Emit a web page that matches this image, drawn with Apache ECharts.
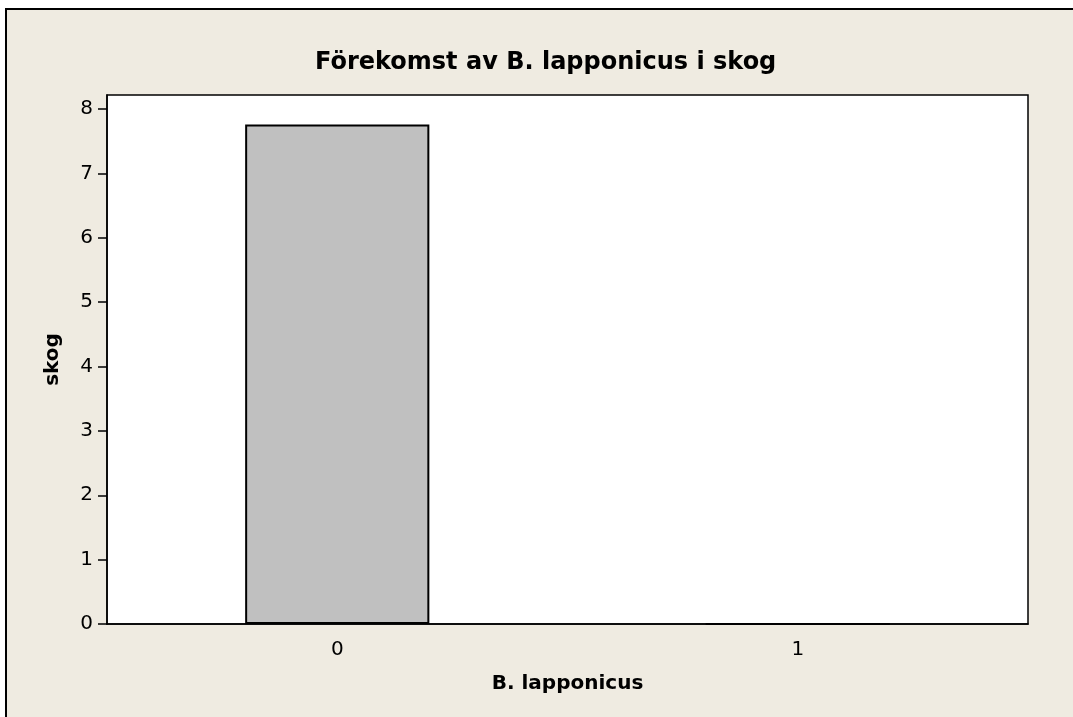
<!DOCTYPE html>
<html>
<head>
<meta charset="utf-8">
<script src="https://cdn.jsdelivr.net/npm/echarts@6/dist/echarts.min.js"></script>
<style>
  html, body { margin: 0; padding: 0; background: #fff; }
  #chart { width: 1073px; height: 717px; }
</style>
</head>
<body>
<div id="chart"></div>
<script>
// data
const categories = ['0', '1']
const skogValues = [7.76, 0]
const yTicks = [0, 1, 2, 3, 4, 5, 6, 7, 8]

const font = 'DejaVu Sans'
const chart = echarts.init(document.getElementById('chart'))

chart.setOption({
  animation: false,
  backgroundColor: '#fff',
  // outer beige panel with black frame (left/top edges visible)
  graphic: [{
    type: 'rect',
    z: -10,
    shape: { x: 6, y: 9, width: 1200, height: 900 },
    style: { fill: '#EFEBE1', stroke: '#000', lineWidth: 2 },
  }],
  title: {
    text: 'Förekomst av B. lapponicus i skog',
    left: 310,
    top: 46,
    textStyle: { fontFamily: font, fontSize: 24, fontWeight: 'bold', color: '#000' },
  },
  grid: {
    left: 107,
    right: 45,
    top: 95,
    bottom: 93,
    show: true,
    backgroundColor: '#fff',
    borderColor: '#000',
    borderWidth: 1.5,
  },
  xAxis: {
    type: 'category',
    data: categories,
    name: 'B. lapponicus',
    nameLocation: 'middle',
    nameGap: 50,
    nameTextStyle: { fontFamily: font, fontSize: 20, fontWeight: 'bold', color: '#000' },
    axisLine: { lineStyle: { color: '#000', width: 1.5 } },
    axisTick: { alignWithLabel: true, length: 9, lineStyle: { color: '#000', width: 1.5 } },
    axisLabel: { fontFamily: font, fontSize: 20, color: '#000', margin: 16 },
  },
  yAxis: {
    type: 'value',
    min: 0,
    max: 8.22,
    name: 'skog',
    nameLocation: 'middle',
    nameGap: 44,
    nameTextStyle: { fontFamily: font, fontSize: 20, fontWeight: 'bold', color: '#000' },
    splitLine: { show: false },
    axisLine: { show: true, lineStyle: { color: '#000', width: 1.5 } },
    axisTick: { show: true, length: 9, customValues: yTicks, lineStyle: { color: '#000', width: 1.5 } },
    axisLabel: { fontFamily: font, fontSize: 20, color: '#000', margin: 14, customValues: yTicks },
  },
  series: [{
    type: 'bar',
    data: skogValues,
    barWidth: '40%',
    itemStyle: { color: '#C0C0C0', borderColor: '#000', borderWidth: 2 },
  }],
})
</script>
</body>
</html>
